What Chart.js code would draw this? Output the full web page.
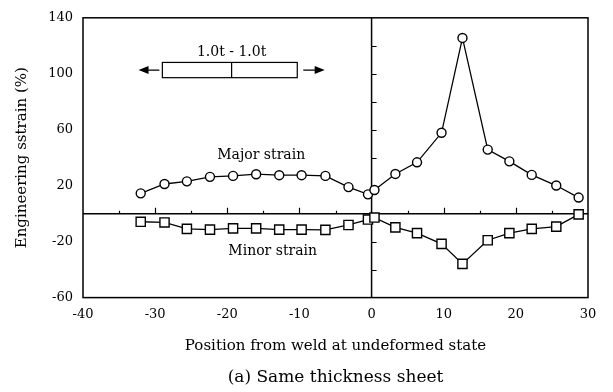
<!DOCTYPE html>
<html><head><meta charset="utf-8">
<script src="https://cdn.jsdelivr.net/npm/chart.js@4/dist/chart.umd.min.js"></script>
<style>html,body{margin:0;padding:0;background:#fff}</style>
</head><body>
<canvas id="c" width="613" height="392"></canvas>
<script>
// ---- data ----
const positions   = [-32, -28.7, -25.6, -22.4, -19.2, -16.0, -12.8, -9.7, -6.4, -3.2, -0.5, 0.4, 3.3, 6.3, 9.7, 12.6, 16.1, 19.1, 22.2, 25.6, 28.7];
const majorStrain = [14.5, 21.2, 23.1, 26.3, 27.0, 28.2, 27.5, 27.5, 27.0, 19.0, 13.8, 16.9, 28.4, 36.7, 57.8, 125.6, 45.8, 37.4, 27.7, 20.1, 11.5];
const minorStrain = [-5.8, -6.3, -10.9, -11.4, -10.5, -10.5, -11.4, -11.4, -11.6, -8.1, -4.2, -2.8, -9.8, -13.9, -21.6, -35.9, -19.0, -13.9, -10.9, -9.3, -0.5];
const xTickLabels = [-40, -30, -20, -10, 0, 10, 20, 30];
const yTickLabels = [-60, -20, 20, 60, 100, 140];
const seriesNames = ['Major strain', 'Minor strain'];
const specimenLabel = '1.0t - 1.0t';

const FONT = "'DejaVu Serif', 'Liberation Serif', serif";

const toPts = (ys) => positions.map((p, i) => ({x: p, y: ys[i]}));

const decor = {
  id: 'decor',
  beforeDatasetsDraw(chart) {
    const {ctx, chartArea: a, scales: {x, y}} = chart;
    ctx.save();
    ctx.strokeStyle = '#000';
    ctx.lineWidth = 1.5;
    ctx.strokeRect(a.left, a.top, a.right - a.left, a.bottom - a.top);
    const x0 = x.getPixelForValue(0), y0 = y.getPixelForValue(0);
    ctx.beginPath();
    ctx.moveTo(a.left, y0); ctx.lineTo(a.right, y0);
    ctx.moveTo(x0, a.top); ctx.lineTo(x0, a.bottom);
    ctx.stroke();
    ctx.lineWidth = 1.2;
    ctx.beginPath();
    for (let v = -35; v < 30; v += 5) {
      if (v === 0) continue;
      const px = Math.round(x.getPixelForValue(v)) + 0.5;
      const len = (v % 10 === 0) ? 6 : 3;
      ctx.moveTo(px, y0); ctx.lineTo(px, y0 - len);
    }
    for (let v = -40; v < 140; v += 20) {
      if (v === 0) continue;
      const py = Math.round(y.getPixelForValue(v)) + 0.5;
      ctx.moveTo(x0, py); ctx.lineTo(x0 + 5, py);
    }
    ctx.stroke();
    ctx.restore();
  },
  afterDatasetsDraw(chart) {
    const {ctx, scales: {x, y}} = chart;
    ctx.save();
    ctx.fillStyle = '#000';
    ctx.strokeStyle = '#000';
    ctx.font = '14px ' + FONT;
    ctx.textAlign = 'center';
    ctx.textBaseline = 'middle';
    ctx.fillText(seriesNames[0], x.getPixelForValue(-15.3), y.getPixelForValue(41.4));
    ctx.fillText(seriesNames[1], x.getPixelForValue(-13.7), y.getPixelForValue(-26.7));
    ctx.fillText(specimenLabel, x.getPixelForValue(-19.4), y.getPixelForValue(115.5));
    // specimen sketch
    const bx1 = x.getPixelForValue(-29.0), bx2 = x.getPixelForValue(-10.3);
    const by1 = y.getPixelForValue(108.1), by2 = y.getPixelForValue(97.2);
    const bm = x.getPixelForValue(-19.4);
    const byc = (by1 + by2) / 2;
    ctx.lineWidth = 1.2;
    ctx.strokeRect(bx1, by1, bx2 - bx1, by2 - by1);
    ctx.beginPath();
    ctx.moveTo(bm, by1); ctx.lineTo(bm, by2);
    // arrows
    const la = x.getPixelForValue(-32.3), ra = x.getPixelForValue(-6.5);
    const ls = bx1 - 3, rs = bx2 + 6;
    ctx.moveTo(ls, byc); ctx.lineTo(la + 8, byc);
    ctx.moveTo(rs, byc); ctx.lineTo(ra - 8, byc);
    ctx.stroke();
    ctx.beginPath();
    ctx.moveTo(la, byc); ctx.lineTo(la + 10, byc - 4); ctx.lineTo(la + 10, byc + 4); ctx.closePath();
    ctx.moveTo(ra, byc); ctx.lineTo(ra - 10, byc - 4); ctx.lineTo(ra - 10, byc + 4); ctx.closePath();
    ctx.fill();
    ctx.restore();
  }
};

new Chart(document.getElementById('c'), {
  type: 'scatter',
  data: {
    datasets: [
      {label: seriesNames[0], data: toPts(majorStrain), showLine: true,
       borderColor: '#000', borderWidth: 1.3, backgroundColor: '#fff',
       pointStyle: 'circle', pointRadius: 4.5, pointBorderWidth: 1.4, pointBorderColor: '#000', pointBackgroundColor: '#fff'},
      {label: seriesNames[1], data: toPts(minorStrain), showLine: true,
       borderColor: '#000', borderWidth: 1.3, backgroundColor: '#fff',
       pointStyle: 'rect', pointRadius: 6.5, pointBorderWidth: 1.4, pointBorderColor: '#000', pointBackgroundColor: '#fff'}
    ]
  },
  options: {
    responsive: false,
    animation: false,
    devicePixelRatio: 1,
    layout: {padding: {top: 10, right: 25, left: 0, bottom: 0}},
    plugins: {
      legend: {display: false},
      tooltip: {enabled: false},
      title: {display: true, position: 'bottom', fullSize: false, text: '(a) Same thickness sheet',
              color: '#000', font: {family: FONT, size: 17, weight: 'normal'}, padding: {top: 0, bottom: 4}}
    },
    scales: {
      x: {
        type: 'linear', min: -40, max: 30,
        grid: {display: false, drawTicks: false},
        border: {display: false},
        afterBuildTicks: (s) => { s.ticks = xTickLabels.map(v => ({value: v})); },
        afterFit: (s) => { s.height = 70; },
        ticks: {color: '#000', font: {family: FONT, size: 13}, padding: 9, maxRotation: 0, autoSkip: false},
        title: {display: true, text: 'Position from weld at undeformed state', color: '#000',
                font: {family: FONT, size: 15}, padding: {top: 12, bottom: 12}}
      },
      y: {
        type: 'linear', min: -60, max: 140,
        grid: {display: false, drawTicks: false},
        border: {display: false},
        afterBuildTicks: (s) => { s.ticks = yTickLabels.map(v => ({value: v})); },
        afterFit: (s) => { s.width = 83; },
        ticks: {color: '#000', font: {family: FONT, size: 13}, padding: 10, autoSkip: false},
        title: {display: true, text: 'Engineering sstrain (%)', color: '#000',
                font: {family: FONT, size: 15}, padding: {top: 13, bottom: 13}}
      }
    }
  },
  plugins: [decor]
});
</script>
</body></html>
